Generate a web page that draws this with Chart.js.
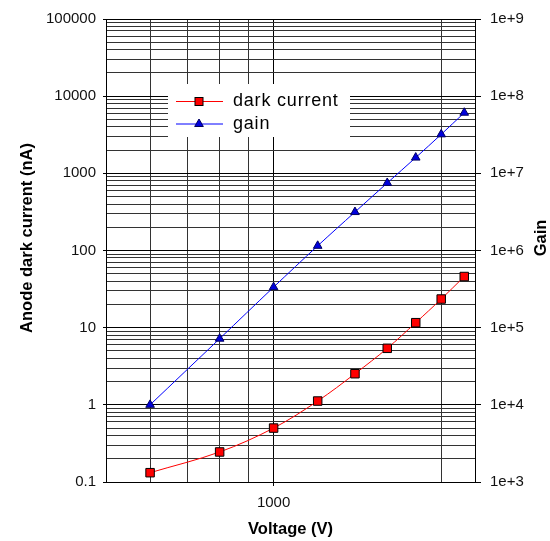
<!DOCTYPE html>
<html lang="en">
<head>
  <meta charset="UTF-8" />
  <title>Anode dark current and gain vs voltage</title>
  <script src="https://cdn.jsdelivr.net/npm/chart.js"></script>
  <style>
    html, body {
      margin: 0;
      padding: 0;
      background: #fff;
    }
    #wrap {
      width: 550px;
      height: 541px;
    }
  </style>
</head>
<body>
  <div id="wrap"><canvas id="chart" width="550" height="541"></canvas></div>

  <script>
    // values
    const voltages = [600, 800, 1000, 1200, 1400, 1600, 1800, 2000, 2200];
    const darkCurrent = [0.132, 0.245, 0.50, 1.12, 2.53, 5.4, 11.6, 23.5, 46];
    const gain = [1.0e4, 7.2e4, 3.35e5, 1.15e6, 3.15e6, 7.5e6, 1.6e7, 3.2e7, 6.1e7];

    const xGridValues = [500, 600, 700, 800, 900, 1000, 2000, 2300];
    const xTickLabels = [1000];
    const leftTickLabels = [0.1, 1, 10, 100, 1000, 10000, 100000];
    const rightTickValues = [1e3, 1e4, 1e5, 1e6, 1e7, 1e8, 1e9];
    const rightTickLabels = ['1e+3', '1e+4', '1e+5', '1e+6', '1e+7', '1e+8', '1e+9'];
    const seriesNames = ['dark current', 'gain'];

    const FONT = "'Liberation Sans', Arial, sans-serif";
    Chart.defaults.font.family = FONT;
    Chart.defaults.color = '#111';

    // 1..9 in every decade of the left axis
    const leftGridValues = [];
    leftTickLabels.forEach((p, i) => {
      if (i == leftTickLabels.length - 1) { leftGridValues.push(p); return; }
      for (let d = 1; d <= 9; d++) leftGridValues.push(Number((d * p).toPrecision(6)));
    });

    const clear = 'rgba(0,0,0,0)';

    const overlay = {
      id: 'overlay',
      afterDraw(chart) {
        const ctx = chart.ctx;
        const area = chart.chartArea;
        ctx.save();

        // axis titles
        ctx.fillStyle = '#000';
        ctx.font = 'bold 16.5px ' + FONT;
        ctx.textAlign = 'center';
        ctx.textBaseline = 'middle';
        ctx.fillText('Voltage (V)', (area.left + area.right) / 2, 529);

        ctx.save();
        ctx.translate(27, 238);
        ctx.rotate(-Math.PI / 2);
        ctx.fillText('Anode dark current (nA)', 0, 0);
        ctx.restore();

        ctx.save();
        ctx.translate(541, 238);
        ctx.rotate(-Math.PI / 2);
        ctx.fillText('Gain', 0, 0);
        ctx.restore();

        // legend box
        ctx.fillStyle = '#fff';
        ctx.fillRect(168, 84, 182, 53);

        const rows = [101.5, 124];
        const colors = ['#ff0000', '#0000ff'];
        rows.forEach((y, i) => {
          ctx.strokeStyle = colors[i];
          ctx.lineWidth = 1;
          ctx.beginPath();
          ctx.moveTo(176, y);
          ctx.lineTo(223, y);
          ctx.stroke();

          const mx = 199;
          if (i == 0) {
            ctx.fillStyle = '#ff0000';
            ctx.strokeStyle = '#000';
            ctx.fillRect(mx - 4, y - 4, 8, 8);
            ctx.strokeRect(mx - 4, y - 4, 8, 8);
          } else {
            const r = 5;
            ctx.fillStyle = '#0000dd';
            ctx.strokeStyle = '#000060';
            ctx.beginPath();
            ctx.moveTo(mx, y - r);
            ctx.lineTo(mx + r * Math.sin(2 * Math.PI / 3), y - r * Math.cos(2 * Math.PI / 3));
            ctx.lineTo(mx + r * Math.sin(4 * Math.PI / 3), y - r * Math.cos(4 * Math.PI / 3));
            ctx.closePath();
            ctx.fill();
            ctx.stroke();
          }

          ctx.fillStyle = '#000';
          ctx.font = '18px ' + FONT;
          ctx.letterSpacing = '0.8px';
          ctx.textAlign = 'left';
          ctx.textBaseline = 'middle';
          ctx.fillText(seriesNames[i], 233, y);
          ctx.letterSpacing = '0px';
        });

        ctx.restore();
      }
    };

    new Chart(document.getElementById('chart'), {
      type: 'line',
      data: {
        datasets: [{
          label: seriesNames[0],
          data: voltages.map((v, i) => ({ x: v, y: darkCurrent[i] })),
          yAxisID: 'y',
          borderColor: '#ff0000',
          borderWidth: 1,
          tension: 0.35,
          pointStyle: 'rect',
          pointRadius: 6,
          pointBackgroundColor: '#ff0000',
          pointBorderColor: '#000',
          pointBorderWidth: 1
        }, {
          label: seriesNames[1],
          data: voltages.map((v, i) => ({ x: v, y: gain[i] })),
          yAxisID: 'y2',
          borderColor: '#0000ff',
          borderWidth: 1,
          tension: 0.35,
          pointStyle: 'triangle',
          pointRadius: 5,
          pointBackgroundColor: '#0000dd',
          pointBorderColor: '#000060',
          pointBorderWidth: 1
        }]
      },
      options: {
        responsive: false,
        animation: false,
        devicePixelRatio: 1,
        layout: { padding: { top: 19, left: 0, right: 0, bottom: 0 } },
        plugins: {
          legend: { display: false },
          tooltip: { enabled: false }
        },
        scales: {
          x: {
            type: 'logarithmic',
            min: 500,
            max: 2300,
            afterBuildTicks: s => { s.ticks = xGridValues.map(v => ({ value: v })); },
            afterFit: s => { s.height = 59; },
            ticks: {
              autoSkip: false,
              maxRotation: 0,
              padding: 8,
              font: { size: 15 },
              callback: v => xTickLabels.includes(v) ? String(v) : ''
            },
            grid: {
              color: c => xTickLabels.includes(c.tick.value) ? '#000' : '#333',
              tickLength: 4,
              tickColor: c => xTickLabels.includes(c.tick.value) ? '#000' : clear
            },
            border: { color: '#000' }
          },
          y: {
            type: 'logarithmic',
            position: 'left',
            min: 0.1,
            max: 100000,
            afterBuildTicks: s => { s.ticks = leftGridValues.map(v => ({ value: v })); },
            afterFit: s => { s.width = 106; },
            ticks: {
              autoSkip: false,
              padding: 7,
              font: { size: 15 },
              callback: v => leftTickLabels.includes(v) ? String(v) : ''
            },
            grid: {
              color: c => leftTickLabels.includes(c.tick.value) ? '#000' : '#333',
              tickLength: 3,
              tickColor: c => leftTickLabels.includes(c.tick.value) ? '#000' : clear
            },
            border: { color: '#000' }
          },
          y2: {
            type: 'logarithmic',
            position: 'right',
            min: 1e3,
            max: 1e9,
            afterBuildTicks: s => { s.ticks = rightTickValues.map(v => ({ value: v })); },
            afterFit: s => { s.width = 75; },
            ticks: {
              autoSkip: false,
              padding: 9,
              font: { size: 15 },
              callback: (v, i) => rightTickLabels[i]
            },
            grid: {
              drawOnChartArea: false,
              tickLength: 6,
              color: '#000'
            },
            border: { color: '#000' }
          }
        }
      },
      plugins: [overlay]
    });
  </script>
</body>
</html>
